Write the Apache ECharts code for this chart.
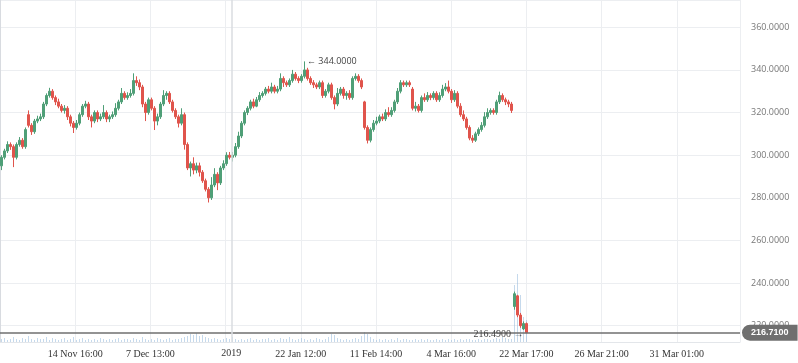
<!DOCTYPE html>
<html><head><meta charset="utf-8">
<script src="https://cdn.jsdelivr.net/npm/echarts@6/dist/echarts.min.js"></script>
<style>html,body{margin:0;padding:0;background:#fff}#c{width:798px;height:363px}</style>
</head><body><div id="c"></div>
<script>
// x tick labels (one per grid step of the bar-index axis)
const xTickLabels = ['', '14 Nov 16:00', '7 Dec 13:00', '', '22 Jan 12:00', '11 Feb 14:00', '4 Mar 16:00', '22 Mar 17:00', '26 Mar 21:00', '31 Mar 01:00'];
const yearLabel = '2019';
const yearPos = 77.1;
const lastPrice = 216.71;
const highPrice = 344.0;
const highIndex = 101;
const lowPrice = 216.49;
const lowIndex = 175;

const opens = [295,299,302,305,304,299,305,307,304,319,
314,311,316,317,318,324,328,330,327,325,
323,321,322,318,315,313,315,319,323,324,
318,316,320,317,318,320,317,318,319,322,
325,329,327,328,329,335,334,332,324,320,
326,322,316,318,324,328,329,325,321,318,
315,319,305,294,296,293,295,292,288,284,
280,286,291,287,294,296,300,299,300,304,
309,315,320,322,325,323,326,328,329,331,
330,332,330,331,336,334,333,335,338,336,
335,337,340,336,334,333,332,334,328,330,
333,327,324,329,331,328,329,327,336,337,
335,325,313,307,312,315,316,318,317,320,
319,321,325,330,334,333,334,331,322,323,
321,327,326,328,327,329,326,328,331,332,
330,326,329,323,319,317,313,308,307,310,
312,314,318,320,321,320,325,328,326,325,
324,229,234,225,218.5,221];
const closes = [299,302,305,304,299,305,307,304,312,314,
311,316,317,318,324,328,330,327,325,323,
321,322,318,315,313,315,319,323,324,318,
316,320,317,318,320,317,318,319,322,325,
329,327,328,329,335,334,332,324,320,326,
322,316,318,324,328,329,325,321,318,315,
319,305,294,296,293,295,292,288,284,280,
286,291,287,294,296,300,299,300,304,309,
315,320,322,325,323,326,328,329,331,330,
332,330,331,336,334,333,335,338,336,335,
337,340,336,334,333,332,334,328,330,333,
327,324,329,331,328,329,327,336,337,335,
332,313,307,312,315,316,318,317,320,319,
321,325,330,334,333,334,333,322,323,321,
327,326,328,327,329,326,328,331,332,330,
326,329,323,319,317,313,308,307,310,312,
314,318,320,321,320,325,328,326,325,324,
321,235,225,220,221,216.71];
const lows = [293,298,301,302.5,294.4,298,304,303,303,313,
309.5,310,315,316,317,323,327,326,323.5,322,
320,319.5,316.5,313.5,310.4,312,314,318,322,316.5,
313,315,315.5,316,317,315.5,315.5,317,318,321,
324,326,326,327,328,332.5,330.5,322.5,316,319,
321,311.8,314,317,323,326,324,320,317,313,
314,302.6,293,290,291,291.5,290,287,283,277.8,
279,285,283.6,286,293,295,298,297,299,303,
308,314,318.8,321,322,322.5,325,327,328,329,
329,329,329,330,332,332,332,334,335,333.8,
334,336,335,333,331.5,331,331,326.8,327,329,
326,321.5,323,328,326.5,326,326,326,335,334,
331,312,305.5,306,311,314,315,316,316,318,
318,320,324,329,332,332,332,321,320.5,320,
320,325,325,325.8,326,325,325,327,330,329,
324.5,325,322,318,316,312,307,305.8,306.2,309,
311,313,317,319,319,319,324,325,323.5,322.5,
319.8,227.5,224,219,218,216.49];
const highs = [300,303,306.5,306,305,306,308.5,308,313,321,
315,317,318.5,319.5,325,329,331.6,331,328,326.5,
324,323.5,323,319,316,316.5,320,324,325.5,325,
319,321,321,319.5,323.5,321,319,320.5,324.4,326,
331.5,330,329.5,331,338.4,337,335.5,333,325,327,
327,323,319.5,325,330.5,330,330,326,322,319,
322,320,306,297,299,296.5,296.5,293,289,285,
289.7,293.9,292,295,297.6,301.4,301.5,301.5,305.7,311,
316,321,323,326,326.5,327.3,329.6,330,332,332.5,
334,333,332.5,338.4,337,335,336,340,339,337,
338,344,341,337,335.2,334,335,335,331,334,
334,328,331.5,332,332,330,330.5,337,338.4,338,
336,325.5,314,313,316.5,318,319,319.5,321.5,322.5,
322.5,326,331.5,335.2,335,335,335,332,325,324,
328,329,329.6,329,330,330,329.5,333,333.8,335,
331,330.5,330,324.4,321,318,314,309.4,311,313,
315.5,320.2,322,322,322,326,329.8,329,327,326,
325,236,234.5,226,222,221.5];
const volumes = [3,4,2,3,5,3,2,4,3,6,
3,2,4,3,3,5,2,4,3,2,
3,4,2,3,5,2,3,4,2,3,
2,3,2,4,3,2,3,2,3,4,
2,3,3,2,4,3,2,5,3,2,
3,2,4,3,2,3,4,2,3,3,
4,5,6,8,7,9,6,7,5,4,
3,4,3,2,3,4,3,5,3,2,
3,2,3,4,2,3,2,3,3,4,
2,3,2,4,3,3,5,3,2,3,
4,3,2,3,2,4,3,2,3,5,
8,7,4,3,2,3,2,3,4,3,
6,10,8,5,3,2,3,2,3,2,
3,2,4,2,3,3,2,2,3,2,
3,2,3,2,2,3,2,3,2,3,
2,3,2,3,2,3,3,2,2,3,
2,3,3,2,3,4,3,5,4,3,
3,57,68,47,25,22];

const PX_PER_UNIT = 3;
const plotWidth = 740;
const xMax = plotWidth / PX_PER_UNIT;
const tickStep = 75.2 / PX_PER_UNIT;

const candleData = opens.map((o, i) => [i + 0.5, o, closes[i], lows[i], highs[i]]);
const volData = volumes.map((v, i) => [i + 0.5, v]);

const chart = echarts.init(document.getElementById('c'), null, {renderer: 'canvas'});
chart.setOption({
  animation: false,
  backgroundColor: '#ffffff',
  grid: {left: 0, right: 58, top: 0, bottom: 21, containLabel: false},
  xAxis: {
    type: 'value', min: 0, max: xMax, interval: tickStep,
    axisLine: {show: true, lineStyle: {color: '#e3e6ea'}},
    axisTick: {show: false},
    splitLine: {show: true, lineStyle: {color: '#eceef1', width: 1}},
    axisLabel: {
      showMinLabel: false, showMaxLabel: false, margin: 7,
      fontFamily: 'Liberation Serif', fontSize: 10, color: '#333',
      formatter: function (v) {
        const k = Math.round(v / tickStep);
        return Math.abs(v - k * tickStep) < 0.01 ? (xTickLabels[k] || '') : '';
      }
    }
  },
  yAxis: [{
    type: 'value', position: 'right', min: 212.35, max: 372.8, splitNumber: 8, scale: true,
    axisLine: {show: true, lineStyle: {color: '#d8dbe0'}},
    axisTick: {show: false},
    splitLine: {show: true, lineStyle: {color: '#eceef1'}},
    axisLabel: {
      showMinLabel: false, showMaxLabel: false, margin: 11,
      fontFamily: 'Open Sans', fontSize: 9, color: '#777',
      formatter: function (v) { return v.toFixed(4); }
    }
  }, {
    type: 'value', min: 0, max: 342, show: false
  }],
  series: [{
    type: 'bar', xAxisIndex: 0, yAxisIndex: 1, data: volData, barWidth: 1,
    itemStyle: {color: 'rgba(150,185,220,0.55)'}, z: 1, silent: true
  }, {
    type: 'candlestick', xAxisIndex: 0, yAxisIndex: 0, data: candleData,
    encode: {x: 0, y: [1, 2, 3, 4]},
    barWidth: 2,
    itemStyle: {color: '#4f9f77', color0: '#e0544c', borderColor: '#4f9f77', borderColor0: '#e0544c', borderWidth: 1},
    z: 3,
    markLine: {
      silent: true, symbol: ['none', 'none'], animation: false,
      data: [
        {yAxis: lastPrice, lineStyle: {color: '#6f6f6f', width: 1.5, type: 'solid'},
         label: {show: true, position: 'end', distance: 2, formatter: lastPrice.toFixed(4),
           backgroundColor: '#6f6f6f', color: '#fff', fontWeight: 'bold', fontFamily: 'Liberation Sans', fontSize: 9,
           padding: [4, 9, 3, 9], borderRadius: [8, 0, 0, 8]}},
        {xAxis: yearPos, lineStyle: {color: '#dadde1', width: 1.5, type: 'solid'},
         label: {show: true, position: 'start', distance: 6, formatter: yearLabel,
           color: '#333', fontFamily: 'Liberation Serif', fontSize: 10}}
      ]
    },
    markPoint: {
      silent: true, symbol: 'circle', symbolSize: 1,
      itemStyle: {color: 'rgba(0,0,0,0)'},
      data: [
        {coord: [highIndex + 0.5, highPrice], value: highPrice,
         label: {show: true, position: 'right', distance: 2, formatter: '\u2190 ' + highPrice.toFixed(4),
           color: '#444', fontFamily: 'Open Sans', fontSize: 9}},
        {coord: [lowIndex - 0.3, lowPrice - 0.4], value: lowPrice,
         label: {show: true, position: 'left', distance: 0, formatter: lowPrice.toFixed(4) + ' \u2192',
           color: '#444', fontFamily: 'Liberation Serif', fontSize: 10}}
      ]
    }
  }]
});
</script>
</body></html>
